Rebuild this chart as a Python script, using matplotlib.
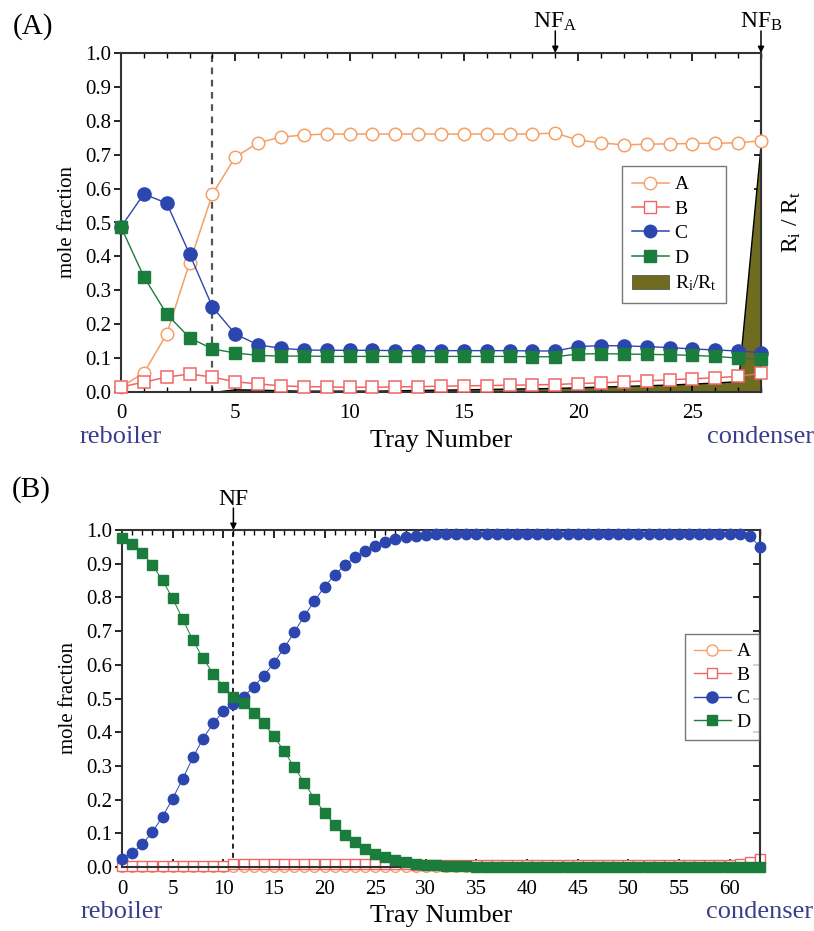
import matplotlib
matplotlib.use("Agg")
import matplotlib.pyplot as plt
from matplotlib.patches import Patch
from matplotlib.lines import Line2D
from matplotlib.ticker import MultipleLocator

plt.rcParams["font.family"] = ["Liberation Serif", "DejaVu Serif"]
plt.rcParams["mathtext.fontset"] = "custom"
plt.rcParams["mathtext.rm"] = "Liberation Serif"
plt.rcParams["mathtext.it"] = "Liberation Serif:italic"

# ---- panel A data (trays 0..28) ----
trays_a = list(range(29))
a_A = [0.015, 0.056, 0.171, 0.381, 0.584, 0.693, 0.735, 0.752, 0.758, 0.761, 0.761, 0.761,
       0.761, 0.761, 0.761, 0.761, 0.761, 0.761, 0.761, 0.764, 0.743, 0.735, 0.729, 0.731,
       0.732, 0.733, 0.734, 0.735, 0.741]
a_B = [0.015, 0.029, 0.044, 0.053, 0.044, 0.030, 0.024, 0.018, 0.016, 0.015, 0.014, 0.014,
       0.015, 0.016, 0.017, 0.018, 0.019, 0.020, 0.021, 0.022, 0.025, 0.027, 0.030, 0.033,
       0.036, 0.039, 0.042, 0.046, 0.055]
a_C = [0.487, 0.584, 0.557, 0.407, 0.251, 0.171, 0.139, 0.129, 0.124, 0.123, 0.123, 0.123,
       0.122, 0.122, 0.122, 0.122, 0.122, 0.122, 0.121, 0.121, 0.134, 0.137, 0.136, 0.134,
       0.131, 0.127, 0.124, 0.121, 0.116]
a_D = [0.487, 0.340, 0.230, 0.160, 0.127, 0.115, 0.108, 0.106, 0.106, 0.105, 0.105, 0.105,
       0.105, 0.105, 0.105, 0.105, 0.105, 0.105, 0.104, 0.104, 0.112, 0.113, 0.112, 0.111,
       0.110, 0.108, 0.105, 0.100, 0.097]
trays_r = list(range(4, 29))
ratio_r = [0.000, 0.008, 0.007, 0.005, 0.004, 0.004, 0.004, 0.004, 0.005, 0.006, 0.007,
           0.008, 0.009, 0.010, 0.011, 0.012, 0.014, 0.016, 0.018, 0.020, 0.022, 0.025,
           0.028, 0.032, 0.740]

# ---- panel B data (trays 0..63) ----
trays_b = list(range(64))
b_A = [0.0] * 64
b_B = [0.004] * 11 + [0.008] * 18 + [0.007] * 32 + [0.010, 0.015, 0.025]
b_C = [0.025, 0.042, 0.067, 0.104, 0.149, 0.203, 0.262, 0.325, 0.381, 0.426, 0.463, 0.485,
       0.505, 0.535, 0.567, 0.606, 0.649, 0.696, 0.745, 0.789, 0.832, 0.866, 0.896, 0.919,
       0.939, 0.952, 0.963, 0.972, 0.978, 0.982, 0.985, 0.987, 0.988] + [0.989] * 29 + \
      [0.982, 0.950]
b_D = [0.975, 0.958, 0.933, 0.896, 0.851, 0.797, 0.735, 0.673, 0.619, 0.574, 0.535, 0.505,
       0.488, 0.458, 0.426, 0.388, 0.344, 0.297, 0.250, 0.203, 0.161, 0.126, 0.096, 0.074,
       0.054, 0.040, 0.030, 0.022, 0.015, 0.010, 0.007, 0.005, 0.004, 0.003, 0.002] + \
      [0.001] * 29

C_A = "#f5a066"
C_B = "#f06666"
C_C = "#2c46b0"
C_D = "#1b7d3c"
OLIVE = "#6f6c22"
NAVY = "#3c3c8c"
SPINE = "#333333"
RATIO = r"R$_{\rm i}$/R$_{\rm t}$"

W, H = 814, 931
fig = plt.figure(figsize=(W / 100, H / 100), dpi=100)


def box(left, top, right, bottom):
    return [left / W, 1 - bottom / H, (right - left) / W, (bottom - top) / H]


def style_axis(ax, xmax):
    ax.set_xlim(0, xmax)
    ax.set_ylim(0, 1.0)
    ax.xaxis.set_major_locator(MultipleLocator(5))
    ax.xaxis.set_minor_locator(MultipleLocator(1))
    ax.yaxis.set_major_locator(MultipleLocator(0.1))
    ax.yaxis.set_major_formatter(matplotlib.ticker.FormatStrFormatter("%.1f"))
    ax.tick_params(axis="x", which="both", direction="in", top=True, labelsize=15, pad=9)
    ax.tick_params(axis="x", which="major", length=6, width=1.2)
    ax.tick_params(axis="x", which="minor", length=3.5, width=1)
    ax.tick_params(axis="y", direction="out", length=5, width=1.2, labelsize=15, pad=2)
    for s in ax.spines.values():
        s.set_linewidth(1.5)
        s.set_color(SPINE)
    sec = ax.secondary_yaxis("right")
    sec.yaxis.set_major_locator(MultipleLocator(0.1))
    sec.tick_params(direction="in", length=5, width=1.2, labelright=False)
    sec.spines["right"].set_linewidth(1.5)
    sec.spines["right"].set_color(SPINE)
    ax.set_xlabel("Tray Number", fontsize=19, labelpad=5)
    ax.set_ylabel("mole fraction", fontsize=15, labelpad=6)
    ax.text(0, -0.1, "reboiler", transform=ax.get_xaxis_transform(), ha="center",
            va="top", fontsize=19, color=NAVY)
    ax.text(xmax, -0.1, "condenser", transform=ax.get_xaxis_transform(), ha="center",
            va="top", fontsize=19, color=NAVY)
    return sec


def arrow_label(ax, x, label):
    ax.annotate("", xy=(x, 1.0), xytext=(x, 1.065), xycoords="data",
                arrowprops=dict(arrowstyle="-|>", color="black", lw=1.1,
                                mutation_scale=9, shrinkA=0, shrinkB=0),
                annotation_clip=False)
    ax.text(x, 1.06, label, ha="center", va="bottom", fontsize=17)


# ---------------- panel A ----------------
ax1 = fig.add_axes(box(121, 53, 761, 392))
sec1 = style_axis(ax1, 28)
sec1.set_ylabel(r"R$_{\rm i}$ / R$_{\rm t}$", fontsize=17, labelpad=14)
ax1.fill_between(trays_r, 0, ratio_r, facecolor=OLIVE, edgecolor="black", lw=1.0, zorder=1)
ax1.axvline(4, color="#555555", ls=(0, (3, 2.5)), lw=1.6, zorder=1.5)
ax1.plot(trays_a, a_A, "-o", color=C_A, mfc="white", mec=C_A, ms=9, mew=1.1, lw=1.1,
         clip_on=False, zorder=3)
ax1.plot(trays_a, a_B, "-s", color=C_B, mfc="white", mec=C_B, ms=8, mew=1.1, lw=1.1,
         clip_on=False, zorder=3)
ax1.plot(trays_a, a_C, "-o", color=C_C, mec=C_C, ms=9.5, lw=1.0, clip_on=False, zorder=3)
ax1.plot(trays_a, a_D, "-s", color=C_D, mec=C_D, ms=8, lw=1.0, clip_on=False, zorder=3.5)
arrow_label(ax1, 19, r"NF$_{\rm A}$")
arrow_label(ax1, 28, r"NF$_{\rm B}$")

handles_a = [
    Line2D([], [], color=C_A, marker="o", mfc="white", mec=C_A, ms=9, lw=1.1),
    Line2D([], [], color=C_B, marker="s", mfc="white", mec=C_B, ms=8, lw=1.1),
    Line2D([], [], color=C_C, marker="o", ms=9, lw=1.1),
    Line2D([], [], color=C_D, marker="s", ms=8, lw=1.1),
    Patch(facecolor=OLIVE, edgecolor="#444444", lw=0.5),
]
leg1 = ax1.legend(handles_a, ["A", "B", "C", "D", RATIO], loc="upper left",
                  bbox_to_anchor=(0.768, 0.695), fontsize=14, frameon=True, fancybox=False,
                  edgecolor="#555555", handlelength=1.9, handletextpad=0.3,
                  labelspacing=0.35, borderpad=0.5)
leg1.get_frame().set_linewidth(1.0)

# ---------------- panel B ----------------
ax2 = fig.add_axes(box(122, 530, 760, 867))
style_axis(ax2, 63)
ax2.axvline(11, color="black", ls=(0, (3, 2.5)), lw=1.2, zorder=1.5)
ax2.plot(trays_b, b_A, "-o", color=C_A, mfc="white", mec=C_A, ms=7, mew=1.0, lw=0.8,
         clip_on=False, zorder=2)
ax2.plot(trays_b, b_B, "-s", color=C_B, mfc="white", mec=C_B, ms=6.5, mew=1.0, lw=0.8,
         clip_on=False, zorder=2.5)
ax2.plot(trays_b, b_C, "-o", color=C_C, mec=C_C, ms=7.5, lw=0.7, clip_on=False, zorder=3)
ax2.plot(trays_b, b_D, "-s", color=C_D, mec=C_D, ms=7, lw=0.7, clip_on=False, zorder=3.5)
arrow_label(ax2, 11, "NF")

handles_b = [
    Line2D([], [], color=C_A, marker="o", mfc="white", mec=C_A, ms=8, lw=1.0),
    Line2D([], [], color=C_B, marker="s", mfc="white", mec=C_B, ms=7, lw=1.0),
    Line2D([], [], color=C_C, marker="o", ms=8, lw=1.0),
    Line2D([], [], color=C_D, marker="s", ms=7, lw=1.0),
]
leg2 = ax2.legend(handles_b, ["A", "B", "C", "D"], loc="upper left",
                  bbox_to_anchor=(0.867, 0.72), fontsize=14, frameon=True, fancybox=False,
                  edgecolor="#555555", handlelength=1.9, handletextpad=0.3,
                  labelspacing=0.3, borderpad=0.45)
leg2.get_frame().set_linewidth(1.0)

fig.text(13 / W, 1 - 27 / H, "(A)", fontsize=21, va="center", ha="left")
fig.text(12 / W, 1 - 490 / H, "(B)", fontsize=21, va="center", ha="left")

fig.savefig("out.png", dpi=100)
